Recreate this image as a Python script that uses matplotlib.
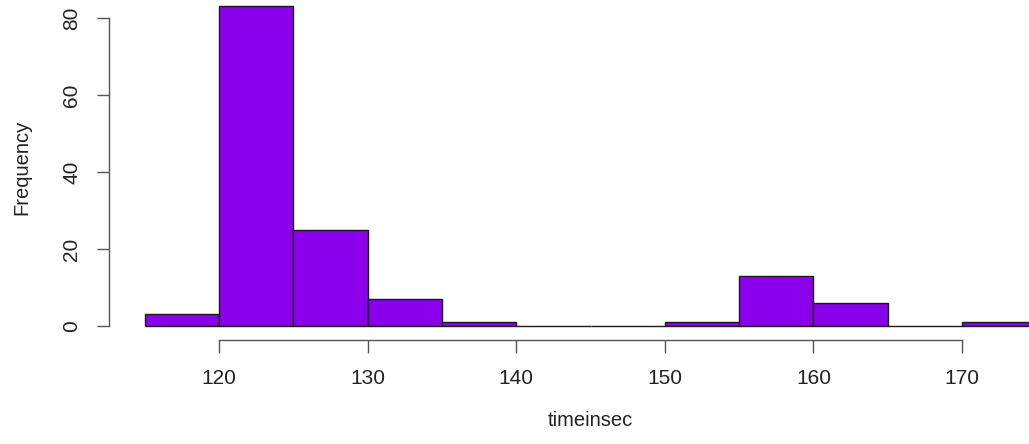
import matplotlib.pyplot as plt

# histogram of run times, 5 second bins
bin_left = [115, 120, 125, 130, 135, 140, 145, 150, 155, 160, 165, 170]
counts = [3, 83, 25, 7, 1, 0, 0, 1, 13, 6, 0, 1]
bin_width = 5
x_ticks = [120, 130, 140, 150, 160, 170]
y_ticks = [0, 20, 40, 60, 80]

plt.rcParams['font.family'] = ['Liberation Sans', 'DejaVu Sans']

fig = plt.figure(figsize=(10.29, 4.44), dpi=100)
ax = fig.add_axes([109 / 1029, 104.5 / 444, 1 - 109 / 1029, 1 - 104.5 / 444])

ax.bar(bin_left, counts, width=bin_width, align='edge',
       color='#8A00EC', edgecolor='#1a1a1a', linewidth=1.0)

# last bin runs off the right edge
ax.set_xlim(112.6, 174.5)
ax.set_ylim(-3.5, 84.68)

for s in ['top', 'right']:
    ax.spines[s].set_visible(False)
ax.spines['left'].set_bounds(0, 80)
ax.spines['bottom'].set_bounds(120, 170)
for s in ['left', 'bottom']:
    ax.spines[s].set_color('#555555')
    ax.spines[s].set_linewidth(1.0)

ax.set_xticks(x_ticks)
ax.set_yticks(y_ticks)
ax.tick_params(axis='x', length=9, width=1.0, color='#555555', pad=12,
               labelsize=15, labelcolor='#222222')
ax.tick_params(axis='y', length=9, width=1.0, color='#555555', pad=11,
               labelsize=15, labelcolor='#222222', labelrotation=90)
for lab in ax.get_yticklabels():
    lab.set_verticalalignment('center')

fig.text(590 / 1029, 1 - 420 / 444, 'timeinsec', ha='center', va='center',
         fontsize=14.5, color='#222222')
fig.text(22 / 1029, 1 - 167 / 444, 'Frequency', ha='center', va='center',
         rotation=90, fontsize=14.5, color='#222222')

fig.savefig('out.png', dpi=100)
